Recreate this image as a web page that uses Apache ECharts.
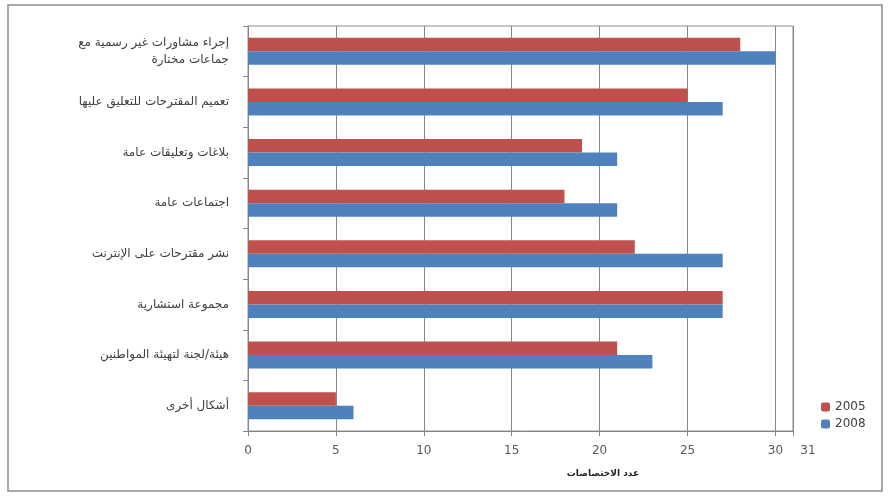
<!DOCTYPE html>
<html><head><meta charset="utf-8">
<script src="https://cdn.jsdelivr.net/npm/echarts@6/dist/echarts.min.js"></script>
<style>html,body{margin:0;padding:0;background:#fff}#c{width:891px;height:496px}</style>
</head><body><div id="c"></div>
<script>
var categories = [
  "إجراء مشاورات غير رسمية مع\nجماعات مختارة",
  "تعميم المقترحات للتعليق عليها",
  "بلاغات وتعليقات عامة",
  "اجتماعات عامة",
  "نشر مقترحات على الإنترنت",
  "مجموعة استشارية",
  "هيئة/لجنة لتهيئة المواطنين",
  "أشكال أخرى"
];
var values2005 = [28, 25, 19, 18, 22, 27, 21, 5];
var values2008 = [30, 27, 21, 21, 27, 27, 23, 6];
var seriesNames = ["2005", "2008"];
var axisTitle = "عدد الاختصاصات";

var chart = echarts.init(document.getElementById('c'));
chart.setOption({
  animation: false,
  textStyle: {fontFamily: "DejaVu Sans"},
  graphic: [{type: 'rect', shape: {x: 8, y: 5, width: 874, height: 486}, style: {fill: 'none', stroke: '#8c8c8c', lineWidth: 1.5}, silent: true}],
  legend: {
    orient: 'vertical', left: 816, top: 396, itemWidth: 9, itemHeight: 9, itemGap: 5,
    textStyle: {fontSize: 12, color: '#404040'},
    data: seriesNames
  },
  grid: {left: 248, right: 98, top: 26, bottom: 65, containLabel: false,
         show: true, borderColor: '#8c8c8c', borderWidth: 1},
  xAxis: {
    type: 'value', min: 0, max: 31, interval: 5,
    name: axisTitle, nameLocation: 'middle', nameGap: 38,
    nameTextStyle: {fontSize: 9, fontWeight: 'bold', color: '#222', padding: [0, 0, 0, 165]},
    axisLine: {show: true, lineStyle: {color: '#868686'}},
    axisTick: {show: true, length: 5, lineStyle: {color: '#868686'}},
    axisLabel: {
      fontSize: 12, color: '#595959', margin: 14, showMaxLabel: true,
      formatter: function (v) { return v === 31 ? '{m|31}' : String(v); },
      rich: {m: {fontSize: 12, color: '#595959', padding: [0, 0, 0, 30]}}
    },
    splitLine: {show: true, lineStyle: {color: '#868686', width: 1}}
  },
  yAxis: {
    type: 'category', inverse: true, data: categories,
    axisLine: {show: true, lineStyle: {color: '#868686'}},
    axisTick: {show: true, length: 5, lineStyle: {color: '#868686'}},
    axisLabel: {fontSize: 12, color: '#404040', margin: 19, align: 'right', lineHeight: 17}
  },
  series: [
    {name: seriesNames[0], type: 'bar', data: values2005, barWidth: 13.5, barGap: '0%', itemStyle: {color: '#C0504D'}},
    {name: seriesNames[1], type: 'bar', data: values2008, barWidth: 13.5, barGap: '0%', itemStyle: {color: '#4F81BD'}}
  ]
});
</script></body></html>
